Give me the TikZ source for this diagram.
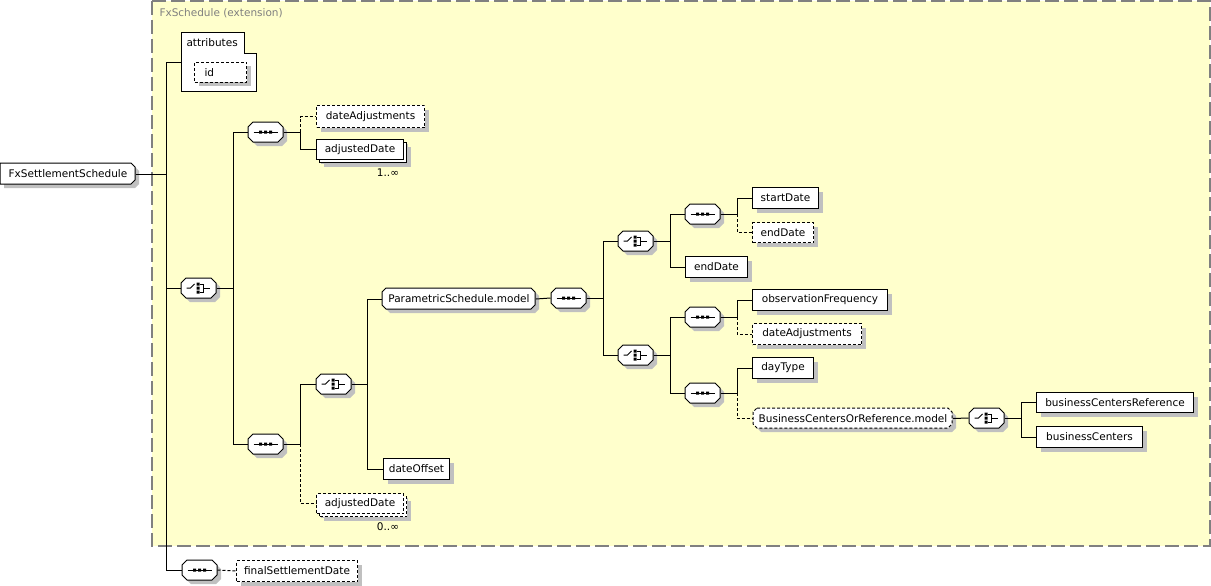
\documentclass[tikz,border=0pt]{standalone}
\usepackage{fontspec}
\newfontfamily\fnt{DejaVu Sans}
\usetikzlibrary{shadows}
\definecolor{extfill}{HTML}{FFFFCC}
\definecolor{shadowc}{HTML}{C0C0C0}
\definecolor{extline}{HTML}{808080}
\tikzset{
  txt/.style={font=\fnt\fontsize{10.5pt}{12pt}\selectfont},
  elem/.style={draw, fill=white, inner sep=0pt, anchor=north west, txt,
    general shadow={fill=shadowc, shadow xshift=4pt, shadow yshift=-4pt}},
  opt/.style={dash pattern=on 3pt off 2pt},
  stack/.style={general shadow={fill=shadowc, shadow xshift=7pt, shadow yshift=-7pt},
    general shadow={fill=white, draw=black, line width=1pt, shadow xshift=3pt, shadow yshift=-3pt}},
  stackopt/.style={general shadow={fill=shadowc, shadow xshift=7pt, shadow yshift=-7pt},
    general shadow={fill=white, draw=black, line width=1pt, dash pattern=on 3pt off 2pt, shadow xshift=3pt, shadow yshift=-3pt}},
  seqicon/.pic={\draw (-12,0) -- (12,0);
    \fill (-6.5,-1.5) rectangle (-3.5,1.5) (-1.5,-1.5) rectangle (1.5,1.5) (3.5,-1.5) rectangle (6.5,1.5);},
  choicon/.pic={\draw (-12,0) -- (-8,0) -- (-4,-4);
    \fill (-2,-5.5) rectangle (1,-2.5) (-2,-1.5) rectangle (1,1.5) (-2,2.5) rectangle (1,5.5);
    \draw (1,-4) -- (4.5,-4) -- (4.5,4) -- (1,4) (4.5,0) -- (11,0);},
}
\newcommand\elem[7][]{%
  \pgfmathsetmacro\ew{#5-#3}\pgfmathsetmacro\eh{#6-#4}%
  \node[elem,minimum width=\ew pt,minimum height=\eh pt,#1] (#2) at (#3,#4) {#7};}
\newcommand\grp[9][]{%
  \fill[shadowc] (#3+#7+4,#4+4) -- (#5-#8+4,#4+4) -- (#5+4,#4+#8+4) -- (#5+4,#6-#8+4) -- (#5-#8+4,#6+4) -- (#3+#7+4,#6+4) -- (#3+4,#6-#7+4) -- (#3+4,#4+#7+4) -- cycle;
  \filldraw[fill=white,#1] (#3+#7,#4) -- (#5-#8,#4) -- (#5,#4+#8) -- (#5,#6-#8) -- (#5-#8,#6) -- (#3+#7,#6) -- (#3,#6-#7) -- (#3,#4+#7) -- cycle;
  \pgfmathsetmacro\ew{#5-#3}\pgfmathsetmacro\eh{#6-#4}%
  \node[txt,inner sep=0pt,minimum width=\ew pt,minimum height=\eh pt,anchor=north west] (#2) at (#3,#4) {#9};}
\newcommand\comp[4]{%
  \begin{scope}[shift={(#2,#3)}]
    \fill[shadowc] (9,4) -- (34,4) -- (39,9) -- (39,19) -- (34,24) -- (9,24) -- (4,19) -- (4,9) -- cycle;
    \filldraw[fill=white] (5,0) -- (30,0) -- (35,5) -- (35,15) -- (30,20) -- (5,20) -- (0,15) -- (0,5) -- cycle;
    \node[inner sep=0pt,minimum width=35pt,minimum height=20pt] (#1) at (17.5,10) {};
    \pic at (17.5,10) {#4};
  \end{scope}}
\begin{document}
\begin{tikzpicture}[x=1pt,y=-1pt,line width=1pt]
\useasboundingbox (0,0) rectangle (1211,586);
% extension frame
\draw[extline, line width=1.3pt, dash pattern=on 14pt off 5pt, fill=extfill] (152,1) rectangle (1210,546);
\node[txt, text=extline, anchor=west, inner sep=0pt] (title) at (159,13) {FxSchedule (extension)};
% root
\grp{root}{0}{163}{135}{184}{0}{4}{FxSettlementSchedule}
% attributes
\draw[fill=white] (181,33) -- (244,33) -- (244,54) -- (256,54) -- (256,92) -- (181,92) -- cycle;
\node[inner sep=0pt, minimum width=75pt, minimum height=59pt, anchor=north west] (attr) at (181,33) {};
\node[txt, anchor=west, inner sep=0pt] (attrlbl) at (186,43) {attributes};
\node[elem, opt, minimum width=52pt, minimum height=20pt, text width=32pt, align=left, inner xsep=10pt] (id) at (194,62) {id};
% compositors
\comp{C1}{181}{278}{choicon}
\comp{S1}{248}{122}{seqicon}
\comp{S2}{248}{434}{seqicon}
\comp{C2}{316}{374}{choicon}
\comp{S3}{551}{288}{seqicon}
\comp{C3}{618}{231}{choicon}
\comp{S4}{685}{204}{seqicon}
\comp{C4}{618}{345}{choicon}
\comp{S5}{685}{307}{seqicon}
\comp{S6}{685}{383}{seqicon}
\comp{C5}{969}{408}{choicon}
\comp{S7}{182}{560}{seqicon}
% elements
\elem[opt]{da1}{316}{105}{424}{127}{dateAdjustments}
\elem[stack]{ad1}{316}{139}{403}{159}{adjustedDate}
\node[txt, inner sep=0pt] (m1) at (388,173) {1..∞};
\grp{psm}{382}{288}{535}{309}{4}{4}{ParametricSchedule.model}
\elem{doff}{383}{458}{449}{479}{dateOffset}
\elem[opt,stackopt]{ad2}{316}{493}{403}{513}{adjustedDate}
\node[txt, inner sep=0pt] (m2) at (388,527) {0..∞};
\elem[opt]{fsd}{236}{560}{357}{581}{finalSettlementDate}
\elem{sd}{752}{187}{818}{208}{startDate}
\elem[opt]{ed1}{752}{222}{813}{242}{endDate}
\elem{ed2}{685}{256}{747}{277}{endDate}
\elem{of}{752}{289}{887}{310}{observationFrequency}
\elem[opt]{da2}{752}{323}{861}{344}{dateAdjustments}
\elem{dt}{752}{357}{813}{378}{dayType}
\grp[opt]{bcor}{753}{408}{952}{428}{4}{4}{BusinessCentersOrReference.model}
\elem{bcr}{1036}{392}{1193}{412}{businessCentersReference}
\elem{bc}{1036}{426}{1142}{447}{businessCenters}
% buses
\coordinate (bR) at (166,0);
\coordinate (bA) at (233,0);
\coordinate (bB) at (300,0);
\coordinate (bD) at (367,0);
\coordinate (bE) at (603,0);
\coordinate (bF) at (670,0);
\coordinate (bG) at (737,0);
\coordinate (bH) at (1021,0);
% connectors
\draw (root.east) -- (root.east -| bR);
\draw (root.east -| bR) |- (attr.west);
\draw (root.east -| bR) |- (C1.west);
\draw (root.east -| bR) |- (S7.west);
\draw (C1.east) -- (C1.east -| bA);
\draw (C1.east -| bA) |- (S1.west);
\draw (C1.east -| bA) |- (S2.west);
\draw (S1.east) -- (S1.east -| bB);
\draw[opt] (S1.east -| bB) |- (da1.west);
\draw (S1.east -| bB) |- (ad1.west);
\draw (S2.east) -- (S2.east -| bB);
\draw (S2.east -| bB) |- (C2.west);
\draw[opt] (S2.east -| bB) |- (ad2.west);
\draw (C2.east) -- (C2.east -| bD);
\draw (C2.east -| bD) |- (psm.west);
\draw (C2.east -| bD) |- (doff.west);
\draw (psm.east) -- (S3.west);
\draw (S3.east) -- (S3.east -| bE);
\draw (S3.east -| bE) |- (C3.west);
\draw (S3.east -| bE) |- (C4.west);
\draw (C3.east) -- (C3.east -| bF);
\draw (C3.east -| bF) |- (S4.west);
\draw (C3.east -| bF) |- (ed2.west);
\draw (S4.east) -- (S4.east -| bG);
\draw (S4.east -| bG) |- (sd.west);
\draw[opt] (S4.east -| bG) |- (ed1.west);
\draw (C4.east) -- (C4.east -| bF);
\draw (C4.east -| bF) |- (S5.west);
\draw (C4.east -| bF) |- (S6.west);
\draw (S5.east) -- (S5.east -| bG);
\draw (S5.east -| bG) |- (of.west);
\draw[opt] (S5.east -| bG) |- (da2.west);
\draw (S6.east) -- (S6.east -| bG);
\draw (S6.east -| bG) |- (dt.west);
\draw[opt] (S6.east -| bG) |- (bcor.west);
\draw (bcor.east) -- (C5.west);
\draw (C5.east) -- (C5.east -| bH);
\draw (C5.east -| bH) |- (bcr.west);
\draw (C5.east -| bH) |- (bc.west);
\draw[opt] (S7.east) -- (fsd.west);
\end{tikzpicture}
\end{document}
